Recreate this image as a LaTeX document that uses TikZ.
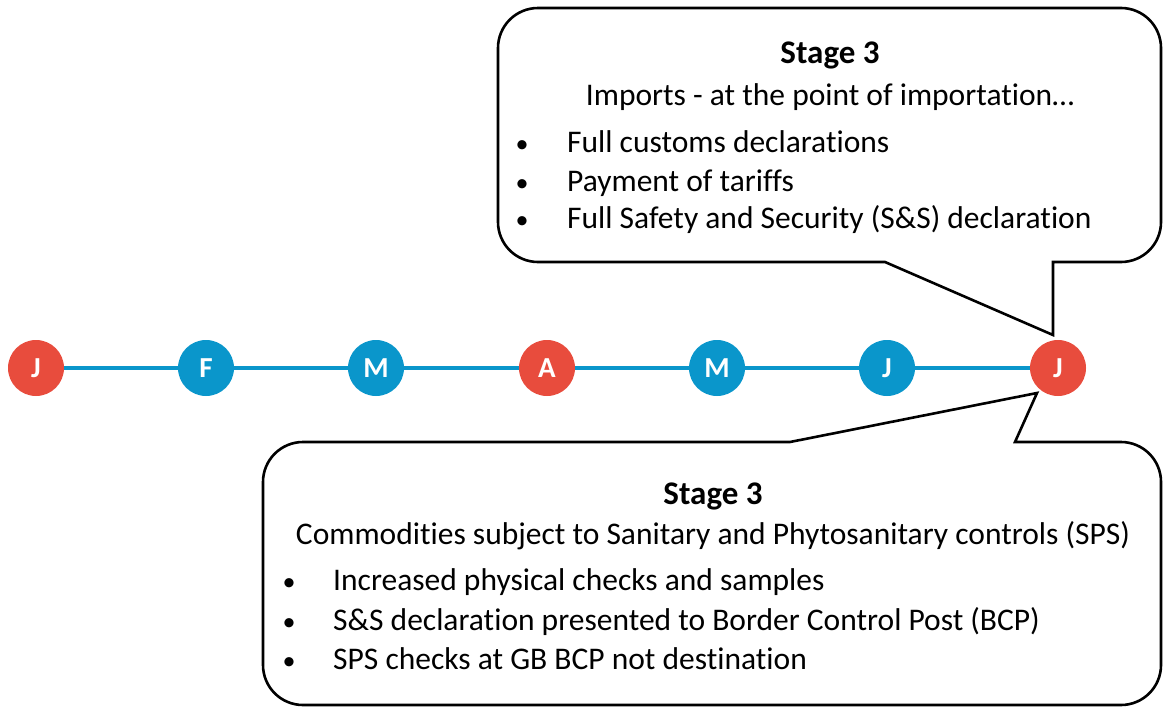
\documentclass[tikz,border=0pt]{standalone}
\usepackage{fontspec}
\setmainfont{Carlito}[Ligatures=NoCommon]
\definecolor{monthred}{HTML}{E84C3D}
\definecolor{monthblue}{HTML}{0A96CB}
\begin{document}
\begin{tikzpicture}[x=1pt,y=1pt,
  month/.style={circle,minimum size=56pt,inner sep=0pt,text=white,font=\fontsize{29}{29}\selectfont\bfseries},
  redm/.style={month,fill=monthred},
  bluem/.style={month,fill=monthblue},
  timeline/.style={monthblue,line width=4pt},
  callout/.style={draw=black,line width=2.6pt,line join=miter,fill=white},
  head/.style={font=\fontsize{33}{33}\selectfont\bfseries,anchor=base},
  sub/.style={font=\fontsize{31.5}{31.5}\selectfont,anchor=base},
  item/.style={font=\fontsize{31.5}{31.5}\selectfont,anchor=base west,inner sep=0pt},
  dot/.style={font=\fontsize{26}{26}\selectfont,anchor=base,inner sep=0pt}]
\useasboundingbox (0,0) rectangle (1167,-707);

% months along the timeline
\node[redm]  (m1) at (36,-368)   {J};
\node[bluem] (m2) at (206,-368)  {F};
\node[bluem] (m3) at (376,-368)  {M};
\node[redm]  (m4) at (547,-368)  {A};
\node[bluem] (m5) at (717,-368)  {M};
\node[bluem] (m6) at (887,-368)  {J};
\node[redm]  (m7) at (1058,-368) {J};
\draw[timeline] (m1) -- (m2) -- (m3) -- (m4) -- (m5) -- (m6) -- (m7);

% upper callout pointing down at the last month
\coordinate (tipA) at (1053,-335);
\draw[callout] (1053,-262) -- (1121,-262) arc[start angle=-90,end angle=0,radius=40]
  -- (1161,-48) arc[start angle=0,end angle=90,radius=40]
  -- (538,-8) arc[start angle=90,end angle=180,radius=40]
  -- (498,-222) arc[start angle=180,end angle=270,radius=40]
  -- (885,-262) -- (tipA) -- cycle;

% lower callout pointing up at the last month
\coordinate (tipB) at (1037,-393);
\draw[callout] (1015,-442) -- (1121,-442) arc[start angle=90,end angle=0,radius=40]
  -- (1161,-665) arc[start angle=0,end angle=-90,radius=40]
  -- (303,-705) arc[start angle=270,end angle=180,radius=40]
  -- (263,-482) arc[start angle=180,end angle=90,radius=40]
  -- (790,-442) -- (tipB) -- cycle;

% upper callout text
\node[head] (h1) at (830,-63) {Stage 3};
\node[sub]  (s1) at (830,-105) {Imports - at the point of importation\ldots};
\node[dot]  (b11) at (522,-152) {•};
\node[item] (t11) at (567,-152) {Full customs declarations};
\node[dot]  (b12) at (522,-191) {•};
\node[item] (t12) at (567,-191) {Payment of tariffs};
\node[dot]  (b13) at (522,-228) {•};
\node[item] (t13) at (567,-228) {Full Safety and Security (S\&S) declaration};

% lower callout text
\node[head] (h2) at (713,-504) {Stage 3};
\node[sub]  (s2) at (713,-544) {Commodities subject to Sanitary and Phytosanitary controls (SPS)};
\node[dot]  (b21) at (289,-590) {•};
\node[item] (t21) at (333,-590) {Increased physical checks and samples};
\node[dot]  (b22) at (289,-630) {•};
\node[item] (t22) at (333,-630) {S\&S declaration presented to Border Control Post (BCP)};
\node[dot]  (b23) at (289,-669) {•};
\node[item] (t23) at (333,-669) {SPS checks at GB BCP not destination};
\end{tikzpicture}
\end{document}
